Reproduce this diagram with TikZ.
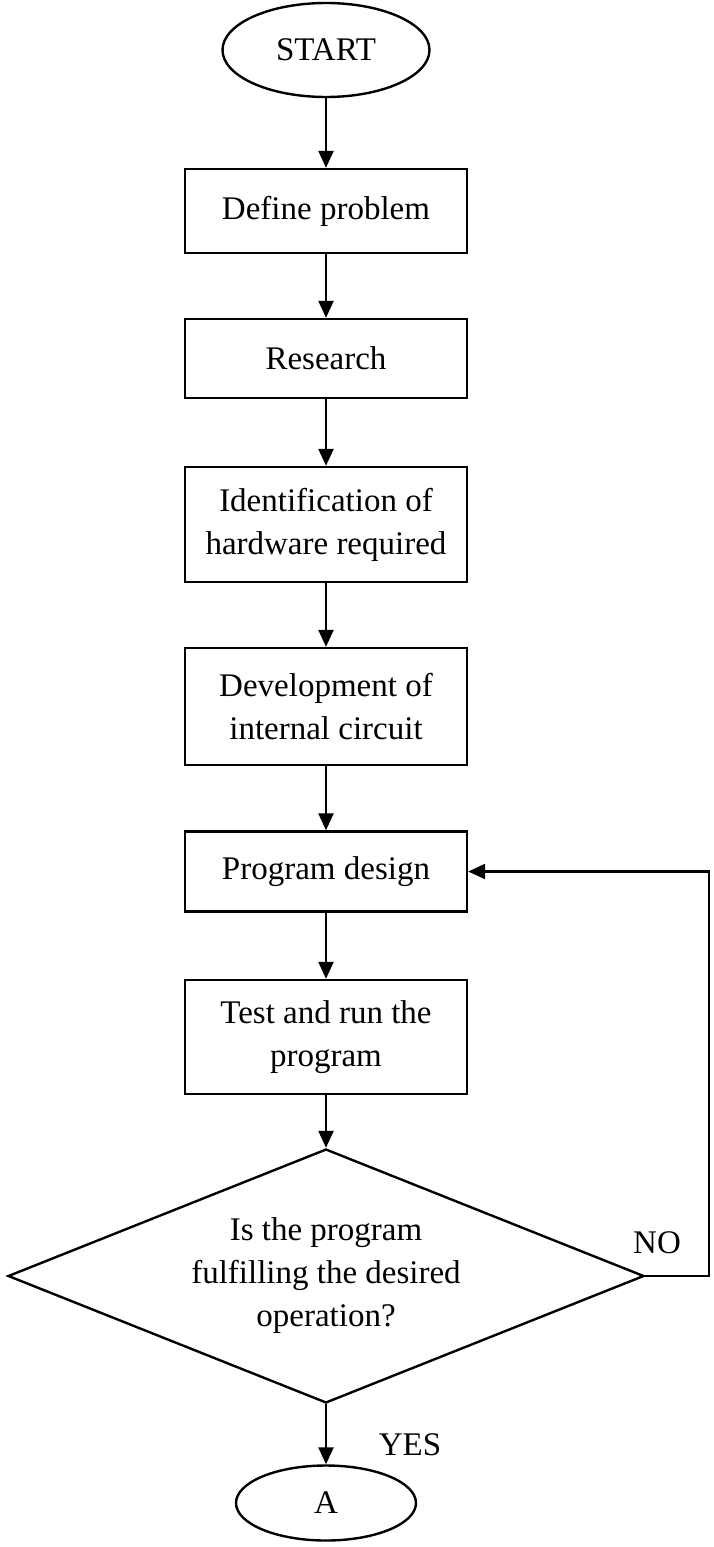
\documentclass[tikz,border=0pt]{standalone}
\usepackage{fontspec}
\setmainfont{Liberation Serif}
\usetikzlibrary{shapes.geometric,arrows.meta}
\begin{document}
\begin{tikzpicture}[x=0.5pt,y=-0.5pt,
  every node/.style={font=\fontsize{16.5}{21.5}\selectfont},
  box/.style={draw, line width=1.2pt, minimum width=141pt, align=center, inner sep=0pt},
  term/.style={draw, ellipse, line width=1.2pt, inner sep=0pt},
  decision/.style={draw, diamond, aspect=2.5, line width=1.2pt, inner sep=0pt, align=center,
                   minimum width=318pt, minimum height=127pt},
  arr/.style={line width=1.2pt, -{Triangle[length=8.5pt,width=7.5pt]}},
  lbl/.style={inner sep=0pt}
]
\useasboundingbox (0,0) rectangle (713,1547);

\node[term, minimum width=103.5pt, minimum height=47pt] (start) at (326,50) {START};
\node[box, minimum height=42pt] (define) at (326,211) {Define problem};
\node[box, minimum height=39.5pt] (research) at (326,358.5) {Research};
\node[box, minimum height=57.5pt] (ident) at (326,524.5) {Identification of\\hardware required};
\node[box, minimum height=58.5pt] (devel) at (326,706.5) {Development of\\internal circuit};
\node[box, minimum height=40pt] (prog) at (326,871.5) {Program design};
\node[box, minimum height=57pt] (test) at (326,1037) {Test and run the\\program};
\node[decision] (dec) at (326,1276) {Is the program\\fulfilling the desired\\operation?};
\node[term, minimum width=90pt, minimum height=37.5pt] (A) at (326,1503) {A};

\node[lbl] (no) at (657,1243) {NO};
\node[lbl] (yes) at (410,1445) {YES};

\coordinate (loop) at (709,1276);

\draw[arr] (start.south) -- (define.north);
\draw[arr] (define.south) -- (research.north);
\draw[arr] (research.south) -- (ident.north);
\draw[arr] (ident.south) -- (devel.north);
\draw[arr] (devel.south) -- (prog.north);
\draw[arr] (prog.south) -- (test.north);
\draw[arr] (test.south) -- (dec.north);
\draw[arr] (dec.south) -- (A.north);
\draw[arr] (dec.east) -- (loop) |- (prog.east);
\end{tikzpicture}
\end{document}
